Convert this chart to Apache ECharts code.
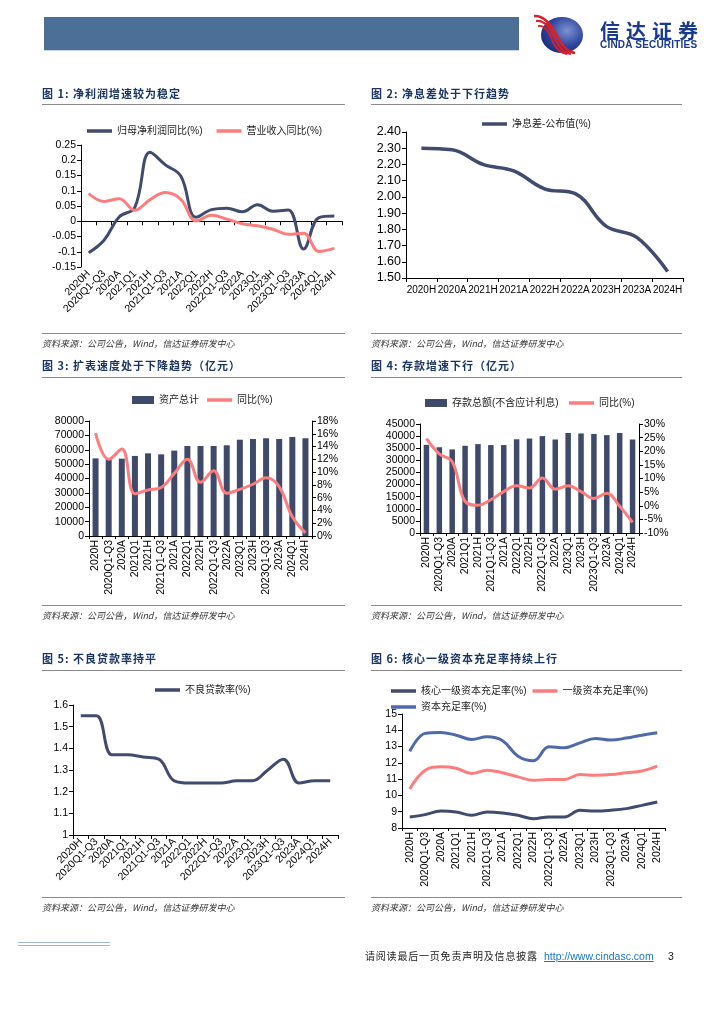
<!DOCTYPE html>
<html>
<head>
<meta charset="utf-8">
<script src="https://cdn.jsdelivr.net/npm/echarts@6/dist/echarts.min.js"></script>
<style>
html,body{margin:0;padding:0;background:#fff;}
#page{position:relative;width:724px;height:1024px;overflow:hidden;background:#fff;}
#chart{position:absolute;left:0;top:0;width:724px;height:1024px;}
.t{position:absolute;white-space:nowrap;line-height:14px;height:14px;}
.title{font-family:"Noto Sans CJK SC",sans-serif;font-weight:bold;font-size:11px;color:#1b3563;letter-spacing:1px;}
.src{font-family:"Noto Sans CJK SC",sans-serif;font-style:italic;font-size:9px;color:#333;}
.rule{position:absolute;height:1px;background:#8a8a8a;}
</style>
</head>
<body>
<div id="page">
  <div id="chart"></div>
  <!-- header -->
  <div style="position:absolute;left:44px;top:17px;width:475px;height:34px;background:#4b6f97;"></div>
  <div style="position:absolute;left:44px;top:50px;width:475px;height:1px;background:#c9d7e8;"></div>
  <svg style="position:absolute;left:525px;top:12px;" width="64" height="46">
    <defs>
      <radialGradient id="lg" cx="0.62" cy="0.38" r="0.75">
        <stop offset="0" stop-color="#7d93d0"/>
        <stop offset="0.55" stop-color="#2f47a0"/>
        <stop offset="1" stop-color="#16256f"/>
      </radialGradient>
    </defs>
    <ellipse cx="37" cy="23" rx="21" ry="18" fill="url(#lg)"/>
    <path d="M9,4 C20,3 27,14 32,24 C37,34 42,40 50,41" stroke="#d9202b" stroke-width="2.6" fill="none"/>
    <path d="M11,9 C21,8 26,18 30,27 C34,36 39,41 46,42" stroke="#d9202b" stroke-width="2.2" fill="none"/>
    <path d="M13,14 C21,13 25,22 28,30 C31,37 36,41 42,42" stroke="#d9202b" stroke-width="1.8" fill="none"/>
  </svg>
  <div class="t" style="left:600px;top:20px;height:22px;line-height:22px;font-family:'Noto Sans CJK SC',sans-serif;font-weight:bold;font-size:20px;letter-spacing:6px;color:#1a3a8c;">信达证券</div>
  <div class="t" style="left:600px;top:39px;height:11px;line-height:11px;font-family:'Liberation Sans',Arial,sans-serif;font-weight:bold;font-size:10px;letter-spacing:0.2px;color:#1a3a8c;">CINDA SECURITIES</div>

  <!-- row 1 -->
  <div class="t title" style="left:42px;top:86px;">图 1: 净利润增速较为稳定</div>
  <div class="rule" style="left:42px;top:104px;width:303px;"></div>
  <div class="t title" style="left:371px;top:86px;">图 2: 净息差处于下行趋势</div>
  <div class="rule" style="left:371px;top:104px;width:311px;"></div>
  <div class="rule" style="left:42px;top:333px;width:303px;"></div>
  <div class="t src" style="left:42px;top:337px;">资料来源：公司公告，Wind，信达证券研发中心</div>
  <div class="rule" style="left:371px;top:333px;width:311px;"></div>
  <div class="t src" style="left:371px;top:337px;">资料来源：公司公告，Wind，信达证券研发中心</div>

  <!-- row 2 -->
  <div class="t title" style="left:42px;top:358px;">图 3: 扩表速度处于下降趋势（亿元）</div>
  <div class="rule" style="left:42px;top:377px;width:303px;"></div>
  <div class="t title" style="left:371px;top:358px;">图 4: 存款增速下行（亿元）</div>
  <div class="rule" style="left:371px;top:377px;width:311px;"></div>
  <div class="rule" style="left:42px;top:605px;width:303px;"></div>
  <div class="t src" style="left:42px;top:609px;">资料来源：公司公告，Wind，信达证券研发中心</div>
  <div class="rule" style="left:371px;top:605px;width:311px;"></div>
  <div class="t src" style="left:371px;top:609px;">资料来源：公司公告，Wind，信达证券研发中心</div>

  <!-- row 3 -->
  <div class="t title" style="left:42px;top:651px;">图 5: 不良贷款率持平</div>
  <div class="rule" style="left:42px;top:670px;width:303px;"></div>
  <div class="t title" style="left:371px;top:651px;">图 6: 核心一级资本充足率持续上行</div>
  <div class="rule" style="left:371px;top:670px;width:311px;"></div>
  <div class="rule" style="left:42px;top:897px;width:303px;"></div>
  <div class="t src" style="left:42px;top:901px;">资料来源：公司公告，Wind，信达证券研发中心</div>
  <div class="rule" style="left:371px;top:897px;width:311px;"></div>
  <div class="t src" style="left:371px;top:901px;">资料来源：公司公告，Wind，信达证券研发中心</div>

  <!-- footer -->
  <div style="position:absolute;left:18px;top:942px;width:92px;height:1px;background:#9fb6d6;"></div>
  <div style="position:absolute;left:18px;top:945px;width:92px;height:1px;background:#9fb6d6;"></div>
  <div class="t" style="left:365px;top:949px;font-family:'Noto Sans CJK SC',sans-serif;font-size:10px;letter-spacing:0.8px;color:#222;">请阅读最后一页免责声明及信息披露</div>
  <div class="t" style="left:544px;top:949px;font-family:'Liberation Sans',Arial,sans-serif;font-size:10.5px;color:#1a73c8;text-decoration:underline;">http://www.cindasc.com</div>
  <div class="t" style="left:668px;top:949px;font-family:'Liberation Sans',Arial,sans-serif;font-size:10.5px;color:#222;">3</div>
</div>
<script>
// ---------- data ----------
const periods17 = ['2020H','2020Q1-Q3','2020A','2021Q1','2021H','2021Q1-Q3','2021A','2022Q1','2022H','2022Q1-Q3','2022A','2023Q1','2023H','2023Q1-Q3','2023A','2024Q1','2024H'];
const periods9 = ['2020H','2020A','2021H','2021A','2022H','2022A','2023H','2023A','2024H'];

// 图1
const profitYoY  = [-0.103,-0.062,0.015,0.045,0.226,0.185,0.148,0.013,0.038,0.043,0.031,0.054,0.033,0.037,-0.091,0.012,0.017];
const revenueYoY = [0.091,0.065,0.074,0.036,0.071,0.094,0.072,0.001,0.020,0.007,-0.008,-0.015,-0.026,-0.043,-0.039,-0.099,-0.089];
// 图2
const nim = [2.30,2.29,2.20,2.16,2.05,2.02,1.82,1.75,1.54];
// 图3
const totalAssets = [54000,53500,53800,55700,57500,56800,59400,62600,62600,62600,63100,67000,67500,68000,67500,68900,68000];
const assetsYoY   = [16.1,12.0,13.6,6.6,7.2,7.6,9.8,12.0,8.4,10.2,6.7,7.3,8.1,9.1,7.7,3.0,0.5];
// 图4
const deposits    = [36400,35400,34500,36000,36700,36300,36300,38700,39000,40000,38600,41300,41100,40900,40400,41300,38600];
const depositsYoY = [24.6,19.0,16.2,1.6,0.2,2.2,5.2,7.3,6.5,10.2,6.1,7.3,5.2,2.7,4.6,-0.2,-6.1];
// 图5
const nplRatio = [1.55,1.55,1.37,1.37,1.36,1.35,1.25,1.24,1.24,1.24,1.25,1.25,1.30,1.35,1.24,1.25,1.25];
// 图6
const coreTier1 = [8.68,8.82,9.04,8.98,8.78,8.98,8.92,8.78,8.57,8.68,8.68,9.09,9.04,9.09,9.19,9.39,9.60];
const tier1     = [10.40,11.55,11.76,11.67,11.35,11.55,11.39,11.14,10.93,10.98,10.98,11.28,11.24,11.28,11.39,11.50,11.80];
const car       = [12.70,13.81,13.87,13.70,13.44,13.60,13.36,12.41,12.13,12.99,12.93,13.23,13.50,13.40,13.52,13.70,13.85];

// ---------- styles ----------
const NAVY = '#404b6d';
const SALMON = '#fb7d7d';
const BLUE = '#5069a8';
const BAR = '#3f4a6b';
const FONT = "'Liberation Sans', Arial, 'Noto Sans CJK SC', sans-serif";
const blackLine = {show:true, lineStyle:{color:'#000', width:1}};
const blackTick = (len)=>({show:true, length:len, lineStyle:{color:'#000', width:1}});
const lbl = (size, extra)=>Object.assign({color:'#000', fontSize:size, fontFamily:FONT}, extra||{});
const plain = v => String(v);

function valAxis(grid, min, max, interval, size, extra){
  return Object.assign({
    type:'value', gridIndex:grid, min:min, max:max, interval:interval,
    axisLine:blackLine, axisTick:blackTick(4), splitLine:{show:false},
    axisLabel:lbl(size,{margin:5, formatter:plain})
  }, extra||{});
}
function catAxis(grid, data, labelOpt, extra){
  return Object.assign({
    type:'category', gridIndex:grid, data:data, position:'bottom', boundaryGap:true,
    axisLine:Object.assign({onZero:false}, blackLine), axisTick:Object.assign(blackTick(4),{alignWithLabel:false, interval:0}),
    axisLabel:lbl(10, Object.assign({interval:0}, labelOpt||{}))
  }, extra||{});
}
function lineSeries(name, data, xi, yi, color, width){
  return {type:'line', name:name, data:data, xAxisIndex:xi, yAxisIndex:yi, smooth:0.4,
    symbol:'none', showSymbol:false, lineStyle:{color:color, width:width}, itemStyle:{color:color}, z:3};
}
function legendLine(left, top, names, colors, gap, label){
  const l = {left:left, top:top, padding:0, orient:'horizontal', itemGap:gap||15, itemWidth:25, itemHeight:3.5, icon:'rect',
    textStyle:{color:'#222', fontSize:10, fontFamily:FONT}, selectedMode:false,
    data:names.map((n,i)=>({name:n, icon:'rect', itemStyle:{color:colors[i]}}))};
  if (label) l.formatter = () => label;
  return l;
}
function legendBar(left, top, name, color){
  return {left:left, top:top, padding:0, itemWidth:22, itemHeight:8, icon:'rect', selectedMode:false,
    textStyle:{color:'#222', fontSize:10, fontFamily:FONT},
    data:[{name:name, icon:'rect', itemStyle:{color:color}}]};
}

const chart = echarts.init(document.getElementById('chart'), null, {renderer:'canvas'});
const option = {
  animation:false,
  backgroundColor:'transparent',
  textStyle:{fontFamily:FONT},
  grid:[
    {left:81, top:145, width:261, height:122},   // 0: 图1
    {left:406, top:132, width:277, height:146},  // 1: 图2
    {left:89, top:421, width:223, height:115},   // 2: 图3
    {left:420, top:424, width:219, height:109},  // 3: 图4
    {left:73, top:705, width:265, height:130},   // 4: 图5
    {left:402, top:714, width:263, height:114}   // 5: 图6
  ],
  legend:[
    legendLine(87, 126, ['归母净利润同比(%)','营业收入同比(%)'], [NAVY, SALMON], 14),
    legendLine(482, 119, ['净息差-公布值(%)'], [NAVY]),
    legendBar(132, 395, '资产总计', BAR),
    legendLine(207, 395, ['资产同比(%)'], [SALMON], 10, '同比(%)'),
    legendBar(425, 398, '存款总额(不含应计利息)', BAR),
    legendLine(569, 398, ['存款同比(%)'], [SALMON], 10, '同比(%)'),
    legendLine(155, 685, ['不良贷款率(%)'], [NAVY]),
    legendLine(391, 686, ['核心一级资本充足率(%)','一级资本充足率(%)'], [NAVY, SALMON], 6),
    legendLine(391, 702, ['资本充足率(%)'], [BLUE])
  ],
  xAxis:[
    // 0: 图1 labels at bottom
    catAxis(0, periods17, {rotate:45, fontSize:10.5, margin:5}, {axisLine:{show:false, onZero:false}, axisTick:{show:false}}),
    // 1: 图1 zero line with ticks
    catAxis(0, periods17, {show:false}, {axisLine:{show:true, onZero:true, lineStyle:{color:'#000',width:1}}}),
    // 2: 图2
    catAxis(1, periods9, {fontSize:10, margin:7}),
    // 3: 图3
    catAxis(2, periods17, {rotate:90, fontSize:10.5, margin:4}, {axisTick:{show:true, length:3, interval:0, lineStyle:{color:'#000'}}}),
    // 4: 图4
    catAxis(3, periods17, {rotate:90, fontSize:10.5, margin:4}, {axisTick:{show:true, length:3, interval:0, lineStyle:{color:'#000'}}}),
    // 5: 图5
    catAxis(4, periods17, {rotate:45, fontSize:10.5, margin:5}),
    // 6: 图6
    catAxis(5, periods17, {rotate:90, fontSize:10.5, margin:4}, {axisTick:{show:true, length:3, interval:0, lineStyle:{color:'#000'}}})
  ],
  yAxis:[
    valAxis(0, -0.15, 0.25, 0.05, 10.5),
    valAxis(1, 1.5, 2.4, 0.1, 12.5, {axisLabel:lbl(12.5,{margin:5, formatter:v=>v.toFixed(2)})}),
    valAxis(2, 0, 80000, 10000, 10.5),
    valAxis(2, 0, 18, 2, 10.5, {position:'right', axisLabel:lbl(10.5,{margin:5, formatter:'{value}%'})}),
    valAxis(3, 0, 45000, 5000, 10.5),
    valAxis(3, -10, 30, 5, 10.5, {position:'right', axisLabel:lbl(10.5,{margin:5, formatter:'{value}%'})}),
    valAxis(4, 1, 1.6, 0.1, 10.5),
    valAxis(5, 8, 15, 1, 10.5)
  ],
  series:[
    lineSeries('归母净利润同比(%)', profitYoY, 0, 0, NAVY, 3),
    lineSeries('营业收入同比(%)', revenueYoY, 0, 0, SALMON, 3),
    lineSeries('净息差-公布值(%)', nim, 2, 1, NAVY, 3.5),
    {type:'bar', name:'资产总计', data:totalAssets, xAxisIndex:3, yAxisIndex:2, barWidth:6, itemStyle:{color:BAR}, z:2},
    lineSeries('资产同比(%)', assetsYoY, 3, 3, SALMON, 3),
    {type:'bar', name:'存款总额(不含应计利息)', data:deposits, xAxisIndex:4, yAxisIndex:4, barWidth:5.5, itemStyle:{color:BAR}, z:2},
    lineSeries('存款同比(%)', depositsYoY, 4, 5, SALMON, 3),
    lineSeries('不良贷款率(%)', nplRatio, 5, 6, NAVY, 3),
    lineSeries('核心一级资本充足率(%)', coreTier1, 6, 7, NAVY, 3),
    lineSeries('一级资本充足率(%)', tier1, 6, 7, SALMON, 3),
    lineSeries('资本充足率(%)', car, 6, 7, BLUE, 3)
  ]
};
chart.setOption(option);
</script>
</body>
</html>
